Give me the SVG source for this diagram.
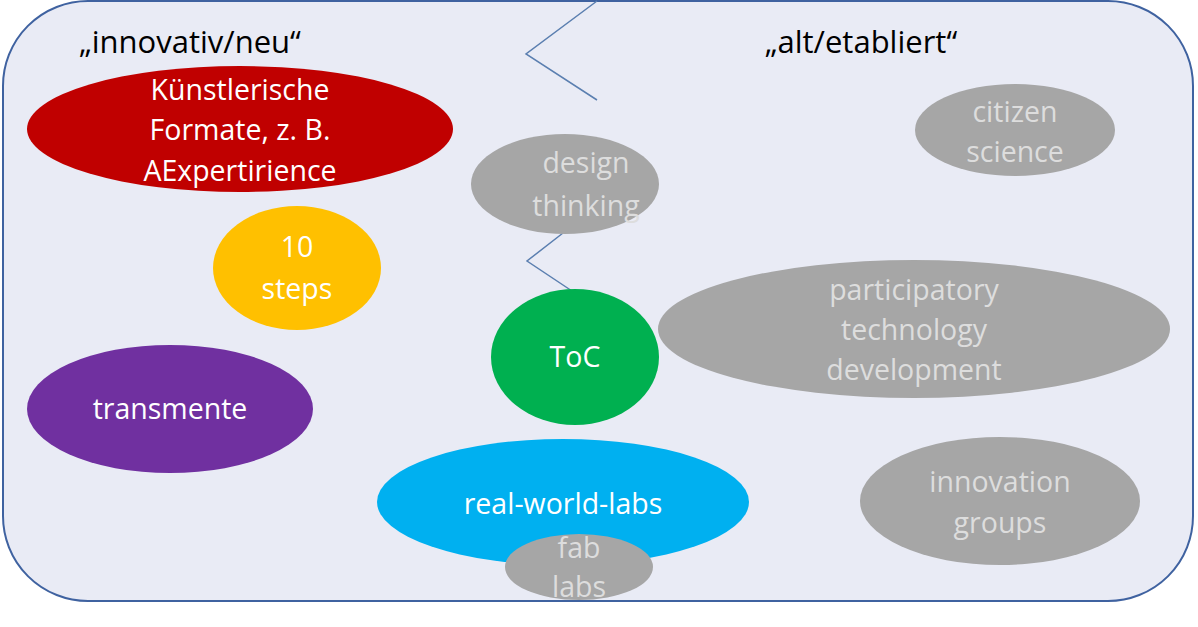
<svg xmlns="http://www.w3.org/2000/svg" width="1198" height="627" viewBox="0 0 1198 627">
<style>
.t{font-family:"Open Sans","Liberation Sans",sans-serif;font-size:28.5px;text-anchor:middle}
.w{fill:#FFFFFF}
.g{fill:#DDDDDD}
.h{font-family:"Open Sans","Liberation Sans",sans-serif;font-size:31px;fill:#000000;text-anchor:middle}
.gray{fill:#A6A6A6}
.conn{fill:none;stroke:#5B7FB0;stroke-width:1.5}
</style>
<rect width="1198" height="627" fill="#FFFFFF"/>
<g id="frame">
<rect x="3" y="1" width="1190" height="600" rx="85" ry="85" fill="#E9EBF5" stroke="#3F62A0" stroke-width="2"/>
<text class="h" x="190" y="53">„innovativ/neu“</text>
<text class="h" x="861" y="53">„alt/etabliert“</text>
</g>
<g id="connectors">
<polyline class="conn" points="597,1 526,54 597,100"/>
<polyline class="conn" points="563,233 527,261 572,291"/>
</g>
<g id="kuenstlerisch">
<ellipse cx="240" cy="129" rx="213" ry="63" fill="#C00000"/>
<text class="t w" x="240" y="100">Künstlerische</text>
<text class="t w" x="240" y="140">Formate, z. B.</text>
<text class="t w" x="240" y="181">AExpertirience</text>
</g>
<g id="steps">
<ellipse cx="297" cy="268" rx="84" ry="62" fill="#FFC000"/>
<text class="t w" x="297" y="257">10</text>
<text class="t w" x="297" y="299">steps</text>
</g>
<g id="transmente">
<ellipse cx="170" cy="409" rx="143" ry="64" fill="#7030A0"/>
<text class="t w" x="170" y="419">transmente</text>
</g>
<g id="design">
<ellipse cx="565" cy="184" rx="94" ry="50" class="gray"/>
<text class="t g" x="586" y="173">design</text>
<text class="t g" x="586" y="216">thinking</text>
</g>
<g id="toc">
<ellipse cx="575" cy="357" rx="84" ry="68" fill="#00B050"/>
<text class="t w" x="575" y="367">ToC</text>
</g>
<g id="rwl">
<ellipse cx="563" cy="502" rx="186" ry="63" fill="#00B0F0"/>
<text class="t w" x="563" y="514">real-world-labs</text>
</g>
<g id="fablabs">
<ellipse cx="579" cy="567" rx="74" ry="33" class="gray"/>
<text class="t g" x="579" y="558">fab</text>
<text class="t g" x="579" y="597">labs</text>
</g>
<g id="citizen">
<ellipse cx="1015" cy="130" rx="100" ry="46" class="gray"/>
<text class="t g" x="1015" y="122">citizen</text>
<text class="t g" x="1015" y="162">science</text>
</g>
<g id="ptd">
<ellipse cx="914" cy="329" rx="256" ry="69" class="gray"/>
<text class="t g" x="914" y="300">participatory</text>
<text class="t g" x="914" y="340">technology</text>
<text class="t g" x="914" y="380">development</text>
</g>
<g id="innovation">
<ellipse cx="1000" cy="501" rx="140" ry="64" class="gray"/>
<text class="t g" x="1000" y="492">innovation</text>
<text class="t g" x="1000" y="533">groups</text>
</g>
</svg>
